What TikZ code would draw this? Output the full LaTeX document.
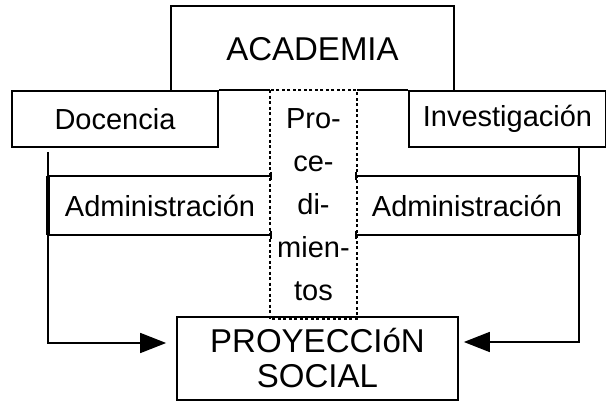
\documentclass[tikz,border=0pt]{standalone}
\usepackage{fontspec}
\setmainfont{Liberation Sans}
\usetikzlibrary{arrows.meta}
\begin{document}
\begin{tikzpicture}[x=1pt,y=-1pt,line width=1.7pt,
    caja/.style={draw,inner sep=0pt},
    texto/.style={font=\fontsize{29}{43}\selectfont},
    grande/.style={font=\fontsize{33}{35}\selectfont},
    rayas/.style={dash pattern=on 3pt off 2.5pt},
    tope/.style={-{Bar[width=8pt,line width=1.7pt]}},
    flecha/.style={-{Triangle[length=26pt,width=20pt]}}]
  \useasboundingbox (0,0) rectangle (606,401);
  % cajas
  \node[grande,inner sep=0pt,minimum width=281,minimum height=84] (acad) at (312.5,49) {ACADEMIA};
  \node[caja,texto,minimum width=206,minimum height=56] (doc) at (115,119) {Docencia};
  \node[caja,texto,minimum width=197,minimum height=56] (inv) at (507.5,119) {Investigación};
  \node[texto,align=center,inner sep=0pt,minimum width=85,minimum height=227] (proc) at (313.5,204.5) {Pro-\\ce-\\di-\\mien-\\tos};
  \node[texto,inner sep=0pt,minimum width=222,minimum height=57] (admL) at (160,205.5) {Administración};
  \node[texto,inner sep=0pt,minimum width=222,minimum height=57] (admR) at (467,205.5) {Administración};
  \node[caja,grande,align=center,minimum width=281,minimum height=83] (proy) at (317.5,358.5) {PROYECCIóN\\SOCIAL};
  % academia sin lado de abajo
  \draw (acad.south west) |- (acad.north east) -- (acad.south east);
  % linea de arriba
  \draw (doc.north east) -- (proc.north west);
  \draw (proc.north east) -- (inv.north west);
  \draw[rayas] (proc.north west) rectangle (proc.south east);
  % administracion
  \draw[tope] (admL.north west) -- (admL.north east);
  \draw[tope] (admL.south west) -- (admL.south east);
  \draw[line width=3.5pt] (admL.north west) -- (admL.south west);
  \draw[tope] (admR.north east) -- (admR.north west);
  \draw[tope] (admR.south east) -- (admR.south west);
  \draw[line width=3.5pt] (admR.north east) -- (admR.south east);
  % flechas
  \draw[flecha,shorten >=10pt] ([yshift=-4pt]doc.south -| admL.west) |- ([yshift=15.5pt]proy.west);
  \draw[flecha,shorten >=5pt] (inv.south -| admR.east) |- ([yshift=16.5pt]proy.east);
\end{tikzpicture}
\end{document}
